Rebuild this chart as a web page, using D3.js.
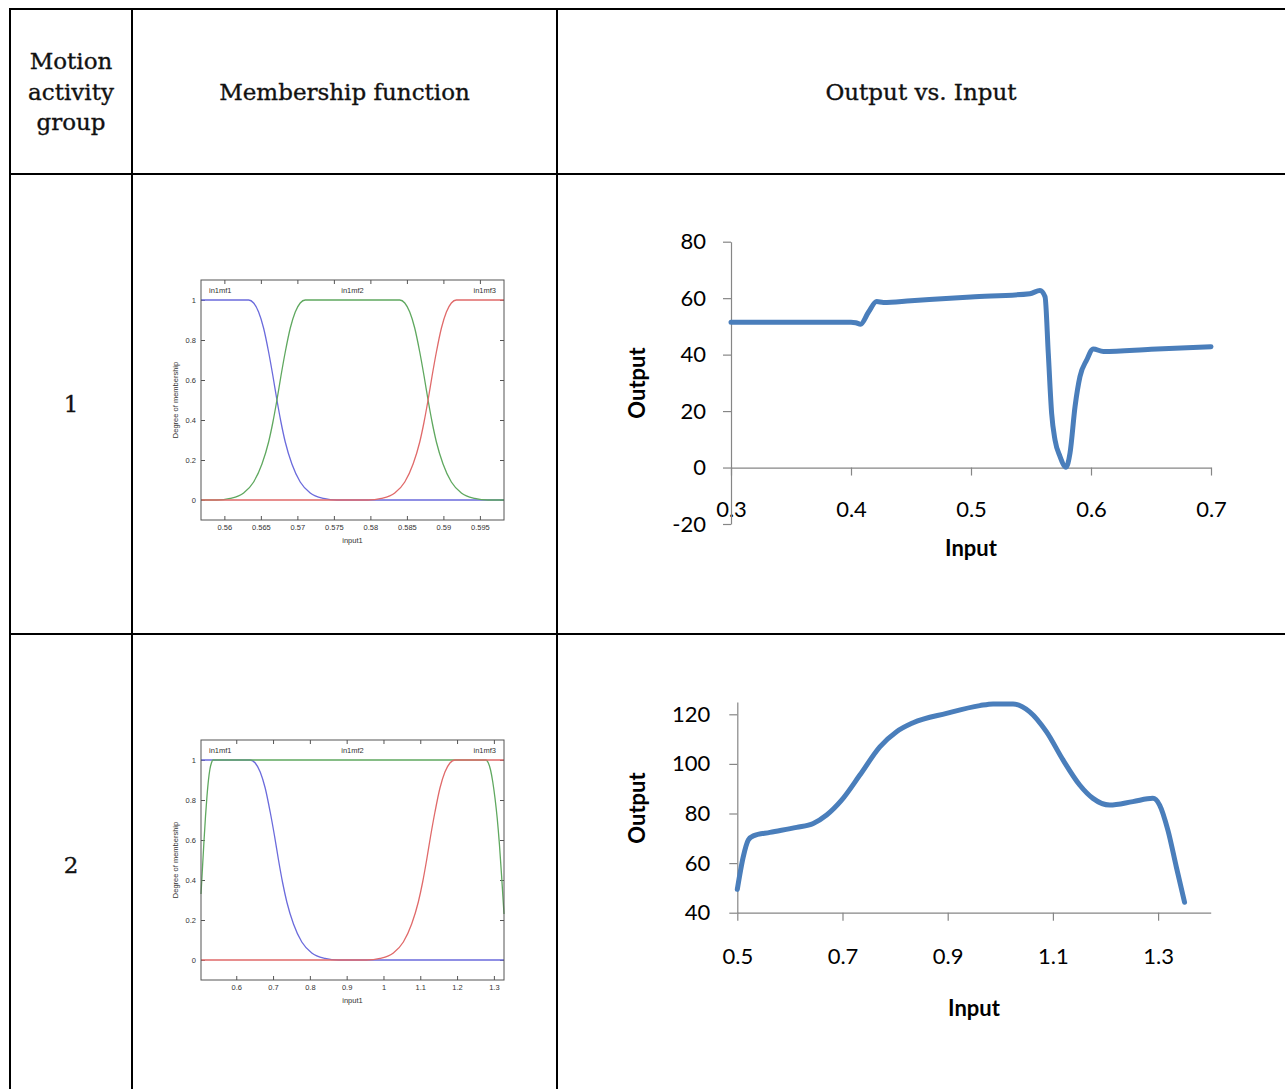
<!DOCTYPE html>
<html>
<head>
<meta charset="utf-8">
<script src="https://cdn.jsdelivr.net/npm/d3@7"></script>
<style>
    body { margin: 0; background: #fff; }
    .cell-text { font-family: "DejaVu Serif", serif; font-size: 23px; fill: #111; stroke: #111; stroke-width: 0.35; }
</style>
</head>
<body>
<div id="chart"></div>
<script>
// Table contents
let headers = [["Motion", "activity", "group"], ["Membership function"], ["Output vs. Input"]];
let groups = ["1", "2"];
let mfNames = ["in1mf1", "in1mf2", "in1mf3"];
let degreeTicks = [0, 0.2, 0.4, 0.6, 0.8, 1];

// Group 1 membership functions (input1 value, degree)
let mf1Domain = [0.5568, 0.5983];
let mf1Ticks = [0.56, 0.565, 0.57, 0.575, 0.58, 0.585, 0.59, 0.595];
let mf1Low = [[0.5568, 1], [0.56332, 1], [0.56401, 0.985], [0.56469, 0.94], [0.56537, 0.86], [0.56606, 0.74],
    [0.56665, 0.62], [0.56720, 0.5], [0.56775, 0.39], [0.56834, 0.29], [0.56925, 0.18], [0.57039, 0.09],
    [0.57176, 0.035], [0.57359, 0.008], [0.57541, 0], [0.5983, 0]];
let mf1Mid = [[0.5568, 0], [0.55899, 0], [0.56081, 0.008], [0.56264, 0.035], [0.56401, 0.09], [0.56515, 0.18],
    [0.56606, 0.29], [0.56665, 0.39], [0.56720, 0.5], [0.56775, 0.62], [0.56834, 0.74], [0.56903, 0.86],
    [0.56971, 0.94], [0.57039, 0.985], [0.57108, 1],
    [0.58402, 1], [0.58471, 0.985], [0.58539, 0.94], [0.58607, 0.86], [0.58676, 0.74], [0.58735, 0.62],
    [0.58790, 0.5], [0.58845, 0.39], [0.58904, 0.29], [0.58995, 0.18], [0.59109, 0.09], [0.59246, 0.035],
    [0.59429, 0.008], [0.59611, 0], [0.5983, 0]];
let mf1High = [[0.5568, 0], [0.57969, 0], [0.58151, 0.008], [0.58334, 0.035], [0.58471, 0.09], [0.58585, 0.18],
    [0.58676, 0.29], [0.58735, 0.39], [0.58790, 0.5], [0.58845, 0.62], [0.58904, 0.74], [0.58973, 0.86],
    [0.59041, 0.94], [0.59109, 0.985], [0.59178, 1], [0.5983, 1]];

// Group 2 membership functions
let mf2Domain = [0.5042, 1.3275];
let mf2Ticks = [0.6, 0.7, 0.8, 0.9, 1, 1.1, 1.2, 1.3];
let mf2Low = [[0.5042, 1], [0.6380, 1], [0.6515, 0.985], [0.6651, 0.94], [0.6786, 0.86], [0.6922, 0.74],
    [0.7040, 0.62], [0.7148, 0.5], [0.7256, 0.39], [0.7374, 0.29], [0.7555, 0.18], [0.7781, 0.09],
    [0.8052, 0.035], [0.8414, 0.008], [0.8775, 0], [1.3275, 0]];
let mf2Mid = [[0.5042, 0.33], [0.5085, 0.47], [0.5125, 0.6], [0.5165, 0.72], [0.5205, 0.82], [0.5245, 0.9],
    [0.5285, 0.955], [0.5325, 0.985], [0.5365, 1], [1.2787, 1], [1.2850, 0.985], [1.2910, 0.95],
    [1.2970, 0.89], [1.3030, 0.81], [1.3090, 0.71], [1.3150, 0.58], [1.3210, 0.42], [1.3275, 0.23]];
let mf2High = [[0.5042, 0], [0.9546, 0], [0.9907, 0.008], [1.0269, 0.035], [1.0540, 0.09], [1.0766, 0.18],
    [1.0947, 0.29], [1.1065, 0.39], [1.1173, 0.5], [1.1281, 0.62], [1.1399, 0.74], [1.1535, 0.86],
    [1.1670, 0.94], [1.1806, 0.985], [1.1941, 1], [1.3275, 1]];

// Output vs. Input, group 1
let out1XRange = [0.3, 0.7];
let out1YRange = [-20, 80];
let out1XTicks = [0.3, 0.4, 0.5, 0.6, 0.7];
let out1YTicks = [-20, 0, 20, 40, 60, 80];
let out1Input = [0.30, 0.35, 0.40, 0.404, 0.408, 0.4145, 0.4214, 0.427, 0.45, 0.50, 0.549, 0.5575, 0.5617, 0.5644,
    0.5672, 0.570, 0.5742, 0.5792, 0.5825, 0.5867, 0.5908, 0.5964, 0.6019, 0.6103, 0.65, 0.70];
let out1Output = [51.5, 51.5, 51.5, 51.3, 50.8, 55.0, 58.8, 58.5, 59.1, 60.4, 61.6, 62.7, 60.5, 40.5,
    19.2, 9.8, 3.9, 0.1, 5.1, 21.6, 32.2, 38.1, 42.0, 41.1, 41.9, 42.8];

// Output vs. Input, group 2
let out2XRange = [0.5, 1.4];
let out2YRange = [40, 125];
let out2XTicks = [0.5, 0.7, 0.9, 1.1, 1.3];
let out2YTicks = [40, 60, 80, 100, 120];
let out2Input = [0.50, 0.5114, 0.5209, 0.5304, 0.5621, 0.6128, 0.6444, 0.6698, 0.6983, 0.733, 0.771, 0.8028, 0.8343,
    0.8977, 0.961, 0.9862, 1.0242, 1.0559, 1.0876, 1.1192, 1.1509, 1.1762, 1.2079, 1.2521, 1.2901, 1.3029, 1.3186,
    1.3346, 1.3503];
let out2Output = [49.4, 62.6, 69.3, 71.0, 72.4, 74.4, 76.0, 79.4, 85.4, 95.5, 106.9, 113.0, 116.6,
    120.4, 123.5, 124.2, 124.2, 121.0, 113.0, 101.6, 91.5, 86.1, 83.4, 84.8, 86.1, 83.4, 73.3,
    58.5, 44.2];

let width = 1285, height = 1089;
let mfColors = ["#6b6bdc", "#5fa85f", "#e06a6a"];

let svg = d3.select("#chart").append("svg")
    .attr("width", width)
    .attr("height", height);

svg.append("rect").attr("width", width).attr("height", height).attr("fill", "#fff");

// Table grid
let colX = [10, 132, 557, 1290];
let rowY = [9, 174, 634, 1095];

let grid = svg.append("g").attr("stroke", "#000").attr("stroke-width", 2);
rowY.slice(0, 3).forEach(y => {
    grid.append("line").attr("x1", colX[0] - 1).attr("x2", width).attr("y1", y).attr("y2", y);
});
colX.slice(0, 3).forEach(x => {
    grid.append("line").attr("x1", x).attr("x2", x).attr("y1", rowY[0] - 1).attr("y2", height);
});

// Header cells
headers.forEach((lines, i) => {
    let cx = i === 2 ? (colX[2] + width) / 2 : (colX[i] + colX[i + 1]) / 2;
    let cy = (rowY[0] + rowY[1]) / 2;
    svg.append("text")
        .attr("class", "cell-text")
        .attr("text-anchor", "middle")
        .selectAll("tspan")
        .data(lines)
        .join("tspan")
        .attr("x", cx)
        .attr("y", (d, j) => cy + (j - (lines.length - 1) / 2) * 30.5 + 8)
        .text(d => d);
});

// Group labels
groups.forEach((g, i) => {
    svg.append("text")
        .attr("class", "cell-text")
        .attr("text-anchor", "middle")
        .attr("x", (colX[0] + colX[1]) / 2)
        .attr("y", (rowY[i + 1] + rowY[i + 2]) / 2 + 8)
        .text(g);
});

// MATLAB-style membership function plot
function drawMf(box, domain, ticks, series) {
    let g = svg.append("g").attr("transform", `translate(${box.x},${box.y})`);

    let x = d3.scaleLinear().domain(domain).range([0, box.w]);
    let y = d3.scaleLinear().domain([-0.1, 1.1]).range([box.h, 0]);

    let styleAxis = sel => {
        sel.select(".domain").remove();
        sel.selectAll("line").attr("stroke", "#555");
        sel.selectAll("text")
            .attr("font-family", "'Liberation Sans', Arial, sans-serif")
            .attr("font-size", 7.5)
            .attr("fill", "#333");
    };

    g.append("g").attr("transform", `translate(0,${box.h})`)
        .call(d3.axisBottom(x).tickValues(ticks).tickSize(-4).tickPadding(5).tickFormat(d => String(d)))
        .call(styleAxis);
    g.append("g")
        .call(d3.axisTop(x).tickValues(ticks).tickSize(-4).tickFormat(""))
        .call(styleAxis);
    g.append("g")
        .call(d3.axisLeft(y).tickValues(degreeTicks).tickSize(-4).tickPadding(5).tickFormat(d => String(d)))
        .call(styleAxis);
    g.append("g").attr("transform", `translate(${box.w},0)`)
        .call(d3.axisRight(y).tickValues(degreeTicks).tickSize(-4).tickFormat(""))
        .call(styleAxis);

    let line = d3.line()
        .curve(d3.curveMonotoneX)
        .x(d => x(d[0]))
        .y(d => y(d[1]));

    series.forEach((s, i) => {
        g.append("path")
            .datum(s)
            .attr("d", line)
            .attr("fill", "none")
            .attr("stroke", mfColors[i])
            .attr("stroke-width", 1.3);
    });

    g.append("rect")
        .attr("width", box.w).attr("height", box.h)
        .attr("fill", "none").attr("stroke", "#555").attr("stroke-width", 1);

    // MF names along the top
    let anchors = ["start", "middle", "end"];
    let nameX = [8, box.w / 2, box.w - 8];
    mfNames.forEach((n, i) => {
        g.append("text")
            .attr("x", nameX[i]).attr("y", 13)
            .attr("text-anchor", anchors[i])
            .attr("font-family", "'Liberation Sans', Arial, sans-serif")
            .attr("font-size", 7.5).attr("fill", "#333")
            .text(n);
    });

    g.append("text")
        .attr("x", box.w / 2).attr("y", box.h + 23)
        .attr("text-anchor", "middle")
        .attr("font-family", "'Liberation Sans', Arial, sans-serif")
        .attr("font-size", 7.5).attr("fill", "#333")
        .text("input1");

    g.append("text")
        .attr("transform", `translate(-23,${box.h / 2}) rotate(-90)`)
        .attr("text-anchor", "middle")
        .attr("font-family", "'Liberation Sans', Arial, sans-serif")
        .attr("font-size", 7.5).attr("fill", "#333")
        .text("Degree of membership");
}

// Excel-style output vs. input line chart
function drawOutput(box, xRange, yRange, xTicks, yTicks, xs, ys, pad) {
    let g = svg.append("g");

    let x = d3.scaleLinear().domain(xRange).range([box.x0, box.x1]);
    let y = d3.scaleLinear().domain(yRange).range([box.y0, box.y1]);
    let xAxisY = y(Math.max(yRange[0], 0));

    let styleAxis = sel => {
        sel.selectAll("line, path").attr("stroke", "#868686").attr("stroke-width", 1.2);
        sel.selectAll("text")
            .attr("font-family", "Lato, 'Open Sans', sans-serif")
            .attr("font-size", 22)
            .attr("fill", "#000");
    };

    g.append("g").attr("transform", `translate(0,${xAxisY})`)
        .call(d3.axisBottom(x).tickValues(xTicks).tickSize(8).tickSizeOuter(0)
            .tickPadding(pad.x).tickFormat(d3.format(".1f")))
        .call(styleAxis);

    g.append("g").attr("transform", `translate(${box.x0},0)`)
        .call(d3.axisLeft(y).tickValues(yTicks).tickSize(8).tickSizeOuter(0)
            .tickPadding(pad.y).tickFormat(d => String(d)))
        .call(styleAxis);

    let pts = xs.map((v, i) => [v, ys[i]]);
    let line = d3.line()
        .curve(d3.curveMonotoneX)
        .x(d => x(d[0]))
        .y(d => y(d[1]));

    g.append("path")
        .datum(pts)
        .attr("d", line)
        .attr("fill", "none")
        .attr("stroke", "#4a7ebb")
        .attr("stroke-width", 5)
        .attr("stroke-linecap", "round")
        .attr("stroke-linejoin", "round");

    g.append("text")
        .attr("x", (box.x0 + box.x1) / 2).attr("y", box.titleY)
        .attr("text-anchor", "middle")
        .attr("font-family", "Lato, 'Open Sans', sans-serif")
        .attr("font-size", 22).attr("font-weight", "bold")
        .text("Input");

    g.append("text")
        .attr("transform", `translate(645,${box.outY}) rotate(-90)`)
        .attr("text-anchor", "middle")
        .attr("font-family", "Lato, 'Open Sans', sans-serif")
        .attr("font-size", 22).attr("font-weight", "bold")
        .text("Output");
}

drawMf({x: 201, y: 280, w: 303, h: 240}, mf1Domain, mf1Ticks, [mf1Low, mf1Mid, mf1High]);
drawMf({x: 201, y: 740, w: 303, h: 240}, mf2Domain, mf2Ticks, [mf2Low, mf2Mid, mf2High]);

drawOutput({x0: 731, x1: 1211, y0: 524, y1: 241.7, titleY: 556, outY: 383},
    out1XRange, out1YRange, out1XTicks, out1YTicks, out1Input, out1Output, {x: 26, y: 17});
drawOutput({x0: 737.3, x1: 1210.7, y0: 912.7, y1: 701.9, titleY: 1016, outY: 808},
    out2XRange, out2YRange, out2XTicks, out2YTicks, out2Input, out2Output, {x: 28, y: 19});
</script>
</body>
</html>
